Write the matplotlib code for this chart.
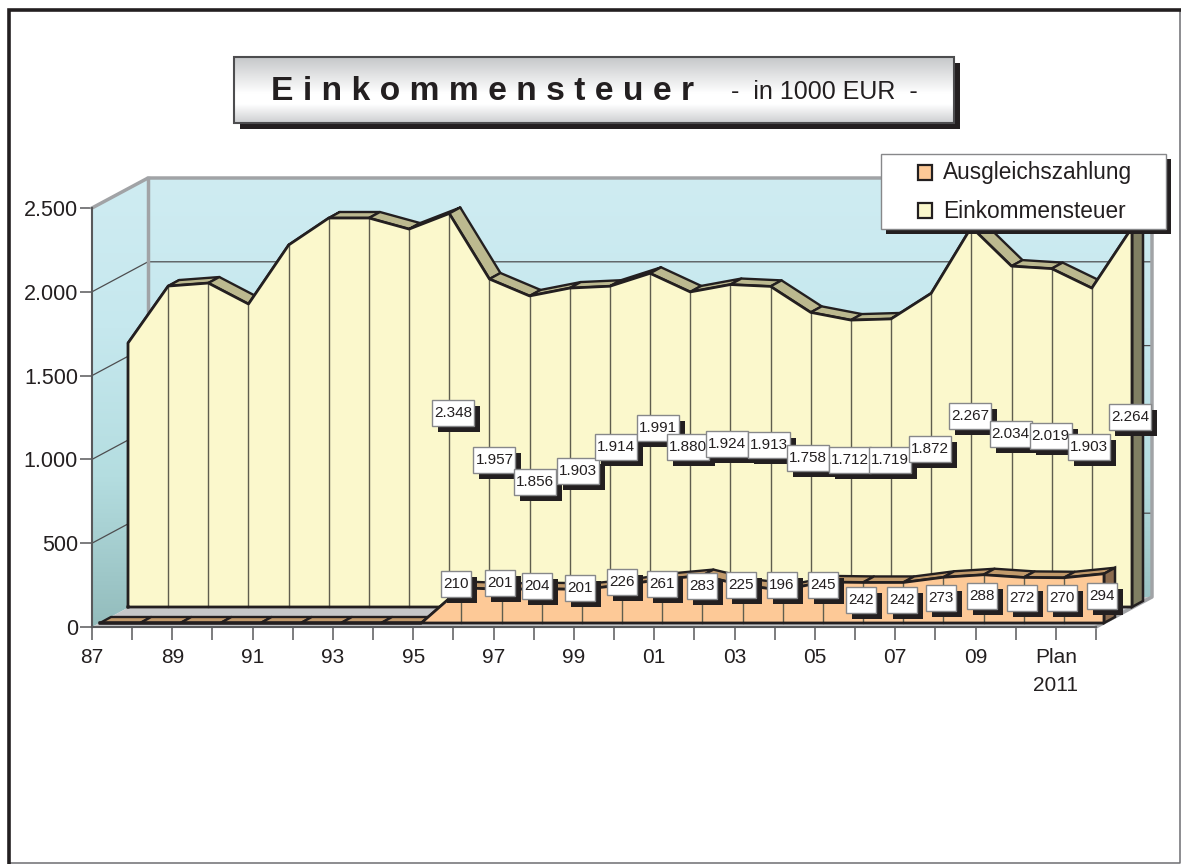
#!/usr/bin/env python3
"""Einkommensteuer chart: pseudo-3D area chart with hand-placed value boxes."""

import matplotlib

matplotlib.use("Agg")
import matplotlib.pyplot as plt
import numpy as np
from matplotlib.colors import LinearSegmentedColormap
from matplotlib.patches import PathPatch, Polygon, Rectangle
from matplotlib.path import Path

plt.rcParams["font.family"] = ["Liberation Sans", "DejaVu Sans"]

# one tick per year, 1987 to 2012, only every other one is labelled
x_labels = ["87", "", "89", "", "91", "", "93", "", "95", "", "97", "", "99", "",
            "01", "", "03", "", "05", "", "07", "", "09", "", "Plan\n2011", ""]
y_ticks = [0, 500, 1000, 1500, 2000, 2500]
y_labels = ["0", "500", "1.000", "1.500", "2.000", "2.500"]

einkommensteuer = [1575, 1915, 1933, 1808, 2160, 2321, 2321, 2255, 2348, 1957, 1856, 1903, 1914,
                   1991, 1880, 1924, 1913, 1758, 1712, 1719, 1872, 2267, 2034, 2019, 1903, 2264]
ausgleich = [0, 0, 0, 0, 0, 0, 0, 0, 0, 210, 201, 204, 201, 226, 261, 283, 225, 196, 245,
             242, 242, 273, 288, 272, 270, 294]

# value boxes start at these categories
E_LABEL_START = 8
A_LABEL_START = 9
# box centre relative to the foot of the series, pixels
e_label_dx = [4, 5, 5, 8, 6, 8, -2, -3, -2, -3, -1, -1, -1, -1, -1, -1, -3, -2]
e_label_up = [194, 147, 125, 136, 160, 179, 160, 163, 162, 149, 147, 147, 158, 191, 173, 171, 160, 190]
a_label_dx = [-5, -2, -5, -2, 0, 0, 0, -2, -1, 0, -2, -1, -2, -2, -2, -2, -2]
a_label_up = [39, 40, 37, 35, 41, 39, 37, 38, 38, 38, 23, 23, 25, 27, 25, 25, 27]

W, H = 1181, 864
LEFT, RIGHT, TOP, BOTTOM = 92, 1096, 208, 627  # front plane in image pixels
INK = "#231f20"
N = len(einkommensteuer)

fig = plt.figure(figsize=(W / 100, H / 100), dpi=100, facecolor="white")
ax = fig.add_axes([LEFT / W, (H - BOTTOM) / H, (RIGHT - LEFT) / W, (BOTTOM - TOP) / H])
ax.patch.set_visible(False)
ax.set_xlim(0, N - 1)
ax.set_ylim(0, 2500)
PX_X = (RIGHT - LEFT) / (N - 1)
PX_Y = (BOTTOM - TOP) / 2500


def shifted(i, v, dx, dy):
    """Data position moved dx pixels right and dy pixels up (the fake depth)."""
    return (i + dx / PX_X, v + dy / PX_Y)


def poly(points, **kw):
    kw.setdefault("clip_on", False)
    p = Polygon(points, closed=True, **kw)
    ax.add_patch(p)
    return p


# walls and floor
DEPTH = (56, 30)
wall_cmap = LinearSegmentedColormap.from_list("wall", ["#cfecf2", "#c6e8ee", "#b4dde0", "#93bcbc"])
wall = ax.imshow(np.linspace(0, 1, 256).reshape(-1, 1), cmap=wall_cmap, aspect="auto", zorder=1,
                 extent=(0, shifted(N - 1, 0, *DEPTH)[0], 0, shifted(0, 2500, *DEPTH)[1]))
outline = [(0, 0), (0, 2500), shifted(0, 2500, *DEPTH), shifted(N - 1, 2500, *DEPTH),
           shifted(N - 1, 0, *DEPTH), shifted(0, 0, *DEPTH)]
wall.set_clip_box(fig.bbox)
wall.set_clip_path(PathPatch(Path(outline + [outline[0]]), transform=ax.transData))
ax.set_xlim(0, N - 1)
ax.set_ylim(0, 2500)
poly([(0, 0), (N - 1, 0), shifted(N - 1, 0, *DEPTH), shifted(0, 0, *DEPTH)], fc="#c6c7c8", ec="none", zorder=1.2)

for v in y_ticks[1:-1]:
    xs, ys = zip((0, v), shifted(0, v, *DEPTH), shifted(N - 1, v, *DEPTH))
    ax.plot(xs, ys, color="#4d4d4f", lw=0.9, zorder=1.5, clip_on=False)
wall_grey = dict(color="#a1a3a6", lw=2.5, zorder=1.6, clip_on=False, solid_capstyle="projecting")
xs, ys = zip((0, 2500), shifted(0, 2500, *DEPTH), shifted(N - 1, 2500, *DEPTH), shifted(N - 1, 0, *DEPTH), (N - 1, 0))
ax.plot(xs, ys, **wall_grey)
xs, ys = zip(shifted(0, 2500, *DEPTH), shifted(0, 0, *DEPTH))
ax.plot(xs, ys, **wall_grey)


def draw_series(values, offset, face, ribbon, cap, z):
    """One 3D band: top ribbon, right cap, front face, year separators, outline."""
    rib = (11, 6)
    ox, oy = offset
    front = [shifted(i, v, ox, oy) for i, v in enumerate(values)]
    back = [shifted(i, v, ox + rib[0], oy + rib[1]) for i, v in enumerate(values)]
    foot = [shifted(i, 0, ox, oy) for i in range(N)]
    foot_back = shifted(N - 1, 0, ox + rib[0], oy + rib[1])
    for k in range(N - 1):
        poly([front[k], front[k + 1], back[k + 1], back[k]], fc=ribbon, ec=INK, lw=1.7, joinstyle="round", zorder=z)
    poly([front[-1], back[-1], foot_back, foot[-1]], fc=cap, ec=INK, lw=1.8, zorder=z)
    poly(front + foot[::-1], fc=face, ec="none", zorder=z + 0.1)
    for k in range(1, N - 1):
        if values[k] > 0:
            ax.plot([front[k][0], foot[k][0]], [front[k][1], foot[k][1]], color="#5f5e4e", lw=1.0,
                    zorder=z + 0.2, clip_on=False)
    xs, ys = zip(*(foot[:1] + front + foot[-1:] + foot[:1]))
    ax.plot(xs, ys, color=INK, lw=2.0, zorder=z + 0.3, clip_on=False, solid_joinstyle="round")


draw_series(einkommensteuer, (36, 20), "#fbf8cc", "#bcb98f", "#807f63", 3)
draw_series(ausgleich, (8, 4), "#fdc997", "#c29a6b", "#8b6b4f", 5)


def value_box(i, offset, dx, up, value, z):
    text = f"{value:,}".replace(",", ".")
    w = 42 if value >= 1000 else 30
    h = 26
    cx, cy = shifted(i, 0, offset[0] + dx, offset[1] + up)
    bw, bh = w / PX_X, h / PX_Y
    ax.add_patch(Rectangle((cx - bw / 2 + 6 / PX_X, cy - bh / 2 - 6 / PX_Y), bw, bh, fc=INK, ec="none",
                           zorder=z, clip_on=False))
    ax.add_patch(Rectangle((cx - bw / 2, cy - bh / 2), bw, bh, fc="white", ec="#87888a", lw=1.0,
                           zorder=z + 0.01, clip_on=False))
    ax.text(cx, cy, text, ha="center", va="center", fontsize=11, color=INK, zorder=z + 0.02, clip_on=False)


for n, v in enumerate(einkommensteuer[E_LABEL_START:]):
    value_box(E_LABEL_START + n, (36, 20), e_label_dx[n], e_label_up[n], v, 8 + n * 0.1)
for n, v in enumerate(ausgleich[A_LABEL_START:]):
    value_box(A_LABEL_START + n, (8, 4), a_label_dx[n], a_label_up[n], v, 11 + n * 0.1)

ax.set_xticks(range(N), x_labels)
ax.set_yticks(y_ticks, y_labels)
ax.tick_params(axis="both", length=9.4, width=1.1, color="#58595b", labelcolor=INK)
ax.tick_params(axis="x", pad=5.5, length=9.4, labelsize=15)
ax.tick_params(axis="y", pad=1.5, length=8.5, labelsize=15.5)
for t in ax.get_xticklabels():
    t.set_linespacing(1.6)
for side in ("top", "right"):
    ax.spines[side].set_visible(False)
for side in ("left", "bottom"):
    ax.spines[side].set_color("#58595b")
    ax.spines[side].set_linewidth(1.5)
    ax.spines[side].set_zorder(2.5)

# overlay in image pixels for frame, title plate and legend
top = fig.add_axes([0, 0, 1, 1], zorder=5)
top.patch.set_visible(False)
top.set_xlim(0, W)
top.set_ylim(H, 0)
top.axis("off")

# page frame
top.plot([1180, 1180, 8.5], [10, 863, 863], color="#6d6e71", lw=1.1)
top.plot([8.5, 8.5, 1180], [863, 10, 10], color=INK, lw=2.6, solid_joinstyle="miter")

# title plate
top.add_patch(Rectangle((240, 63), 720, 66, fc=INK, ec="none"))
plate_cmap = LinearSegmentedColormap.from_list("plate", [(0, "#c6c8ca"), (0.55, "#ffffff"), (0.72, "#ffffff"), (1, "#cdcfd1")])
top.imshow(np.linspace(0, 1, 64).reshape(-1, 1), cmap=plate_cmap, aspect="auto", extent=(234, 954, 123, 57), zorder=2)
top.set_xlim(0, W)
top.set_ylim(H, 0)
top.add_patch(Rectangle((234, 57), 720, 66, fc="none", ec="#4d4d4f", lw=1.5, zorder=3))
top.text(271, 91, "E i n k o m m e n s t e u e r", fontsize=24.2, fontweight="bold", color=INK, va="center", ha="left", zorder=4)
top.text(731, 92, "-  in 1000 EUR  -", fontsize=18, color=INK, va="center", ha="left", zorder=4)

# legend
top.add_patch(Rectangle((886, 159), 285, 75, fc=INK, ec="none"))
top.add_patch(Rectangle((880.5, 153.5), 285, 75, fc="white", ec="#87888a", lw=1.0))
for y, label, colour in [(172, "Ausgleichszahlung", "#fdc997"), (210, "Einkommensteuer", "#fbf8cc")]:
    top.add_patch(Rectangle((918, y - 7.5), 14, 15, fc=colour, ec=INK, lw=1.6))
    top.text(943, y + 1, label, fontsize=16.3, color=INK, va="center", ha="left")

fig.savefig("out.png", dpi=100)
